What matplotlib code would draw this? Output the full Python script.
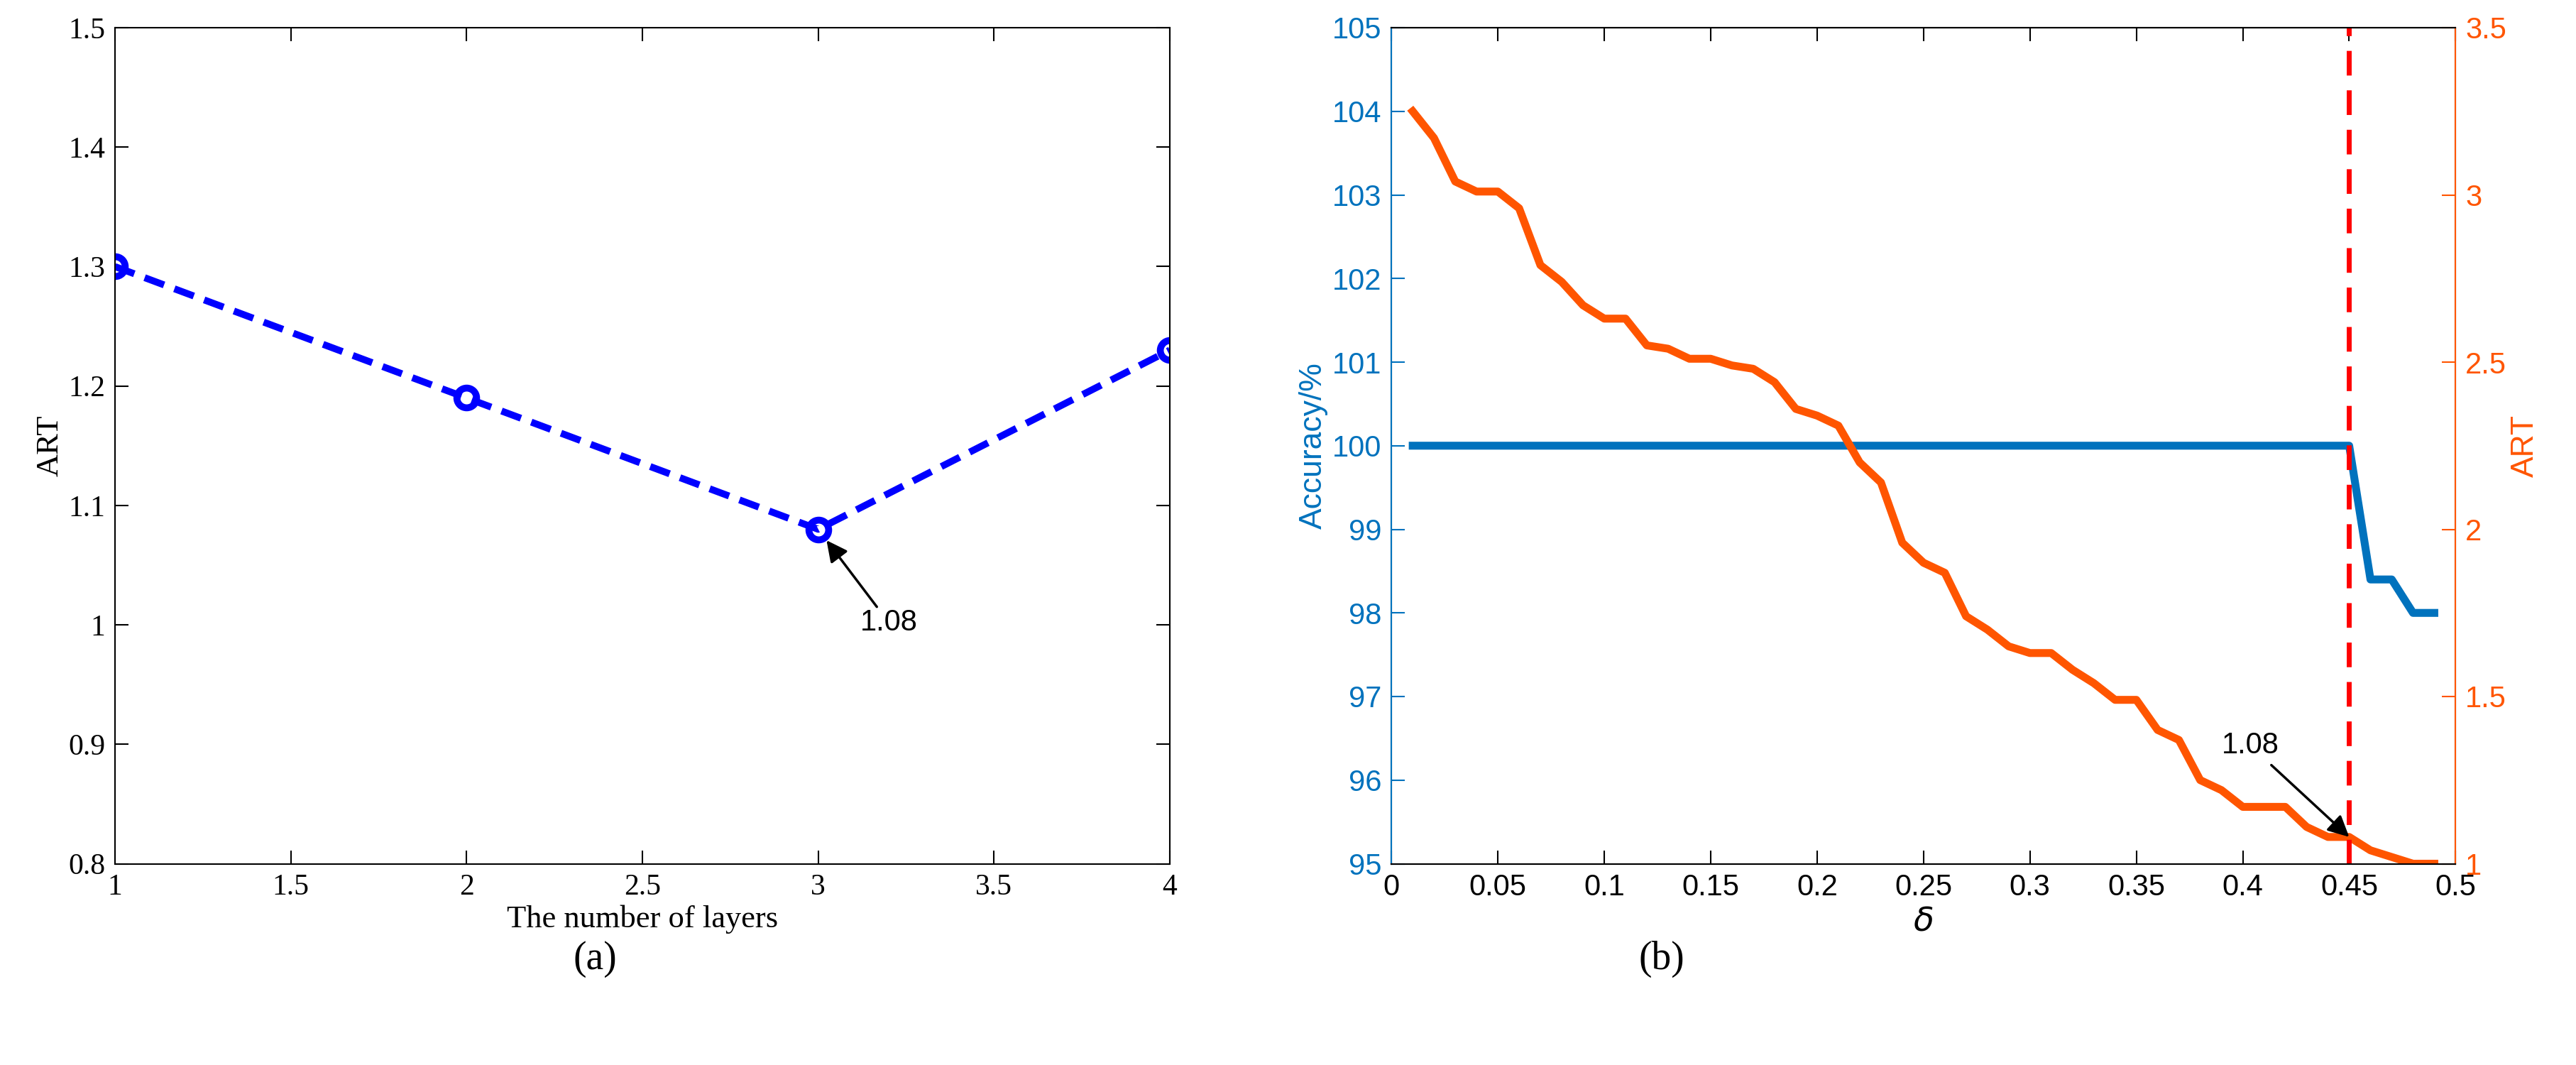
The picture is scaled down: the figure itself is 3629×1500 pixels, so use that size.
import numpy as np
import matplotlib.pyplot as plt

# panel (a)
layers = [1, 2, 3, 4]
art_layers = [1.30, 1.19, 1.08, 1.23]

# panel (b)
delta = [0.01, 0.02, 0.03, 0.04, 0.05, 0.06, 0.07, 0.08, 0.09, 0.10,
         0.11, 0.12, 0.13, 0.14, 0.15, 0.16, 0.17, 0.18, 0.19, 0.20,
         0.21, 0.22, 0.23, 0.24, 0.25, 0.26, 0.27, 0.28, 0.29, 0.30,
         0.31, 0.32, 0.33, 0.34, 0.35, 0.36, 0.37, 0.38, 0.39, 0.40,
         0.41, 0.42, 0.43, 0.44, 0.45, 0.46, 0.47, 0.48, 0.49]
art_delta = [3.25, 3.17, 3.04, 3.01, 3.01, 2.96, 2.79, 2.74, 2.67, 2.63,
             2.63, 2.55, 2.54, 2.51, 2.51, 2.49, 2.48, 2.44, 2.36, 2.34,
             2.31, 2.20, 2.14, 1.96, 1.90, 1.87, 1.74, 1.70, 1.65, 1.63,
             1.63, 1.58, 1.54, 1.49, 1.49, 1.40, 1.37, 1.25, 1.22, 1.17,
             1.17, 1.17, 1.11, 1.08, 1.08, 1.04, 1.02, 1.00, 1.00]
accuracy = [100.0] * 45 + [98.4, 98.4, 98.0, 98.0]

blue = '#0072BD'
orange = '#FF5500'
fs = 30

fig = plt.figure(figsize=(36.3, 15), dpi=100)

# ---- (a) ----
serif = 'Liberation Serif'
ax1 = fig.add_axes([0.0446, 0.189, 0.4094, 0.785])
ax1.plot(layers, art_layers, '--', color='#0000FF', lw=7, dashes=(3, 1.6),
         marker='o', ms=20, mfc='none', mew=7)
ax1.set_xlim(1, 4)
ax1.set_ylim(0.8, 1.5)
ax1.set_xticks(np.arange(1, 4.01, 0.5))
ax1.set_xticklabels(['1', '1.5', '2', '2.5', '3', '3.5', '4'])
ax1.set_yticks(np.arange(0.8, 1.51, 0.1))
ax1.set_yticklabels(['0.8', '0.9', '1', '1.1', '1.2', '1.3', '1.4', '1.5'])
ax1.tick_params(labelsize=fs, direction='in', length=14, width=1.5, top=True, right=True, pad=10)
for s in ax1.spines.values():
    s.set_linewidth(1.5)
for lbl in ax1.get_xticklabels() + ax1.get_yticklabels():
    lbl.set_fontfamily(serif)
ax1.set_xlabel('The number of layers', fontsize=fs + 2, fontfamily=serif)
ax1.set_ylabel('ART', fontsize=fs + 2, fontfamily=serif)
ax1.annotate('1.08', xy=(3, 1.08), xytext=(3.12, 0.995), fontsize=fs,
             fontfamily='Liberation Sans',
             arrowprops=dict(arrowstyle='-|>', color='black', lw=2.5, mutation_scale=45,
                             shrinkA=0, shrinkB=14))
fig.text(0.231, 0.09, '(a)', ha='center', fontsize=40, fontfamily=serif)

# ---- (b) ----
sans = 'Liberation Sans'
ax2 = fig.add_axes([0.540, 0.189, 0.413, 0.785])
ax2.plot(delta, accuracy, color=blue, lw=8)
ax2.set_xlim(0, 0.5)
ax2.set_ylim(95, 105)
ax2.set_xticks(np.arange(0, 0.51, 0.05))
ax2.set_xticklabels(['0', '0.05', '0.1', '0.15', '0.2', '0.25', '0.3', '0.35',
                     '0.4', '0.45', '0.5'])
ax2.set_yticks(np.arange(95, 105.1, 1))
ax2.tick_params(axis='x', labelsize=fs, direction='in', length=14, width=1.5, top=True, pad=10)
ax2.tick_params(axis='y', labelsize=fs, direction='in', length=14, width=1.5, colors=blue, pad=10)
for s in ax2.spines.values():
    s.set_linewidth(1.5)
ax2.set_ylabel('Accuracy/%', fontsize=fs + 2, color=blue, fontfamily=sans)
ax2.set_xlabel(r'$\delta$', fontsize=fs + 4)
for lbl in ax2.get_xticklabels() + ax2.get_yticklabels():
    lbl.set_fontfamily(sans)

ax3 = ax2.twinx()
ax3.plot(delta, art_delta, color=orange, lw=8)
ax3.axvline(0.45, color='#FF0000', lw=5, ls=(0, (5, 3)))
ax3.set_ylim(1, 3.5)
ax3.set_yticks(np.arange(1, 3.51, 0.5))
ax3.set_yticklabels(['1', '1.5', '2', '2.5', '3', '3.5'])
ax3.tick_params(axis='y', labelsize=fs, direction='in', length=14, width=1.5, colors=orange, pad=10)
for s in ax3.spines.values():
    s.set_linewidth(1.5)
ax3.spines['right'].set_color(orange)
ax3.spines['left'].set_color(blue)
ax3.set_ylabel('ART', fontsize=fs + 2, color=orange, fontfamily=sans)
for lbl in ax3.get_yticklabels():
    lbl.set_fontfamily(sans)
ax3.annotate('1.08', xy=(0.45, 1.08), xytext=(0.39, 1.33), fontsize=fs,
             fontfamily=sans,
             arrowprops=dict(arrowstyle='-|>', color='black', lw=2.5, mutation_scale=45,
                             shrinkA=5, shrinkB=0))
fig.text(0.645, 0.09, '(b)', ha='center', fontsize=40, fontfamily=serif)

fig.savefig('out.png', dpi=100)
